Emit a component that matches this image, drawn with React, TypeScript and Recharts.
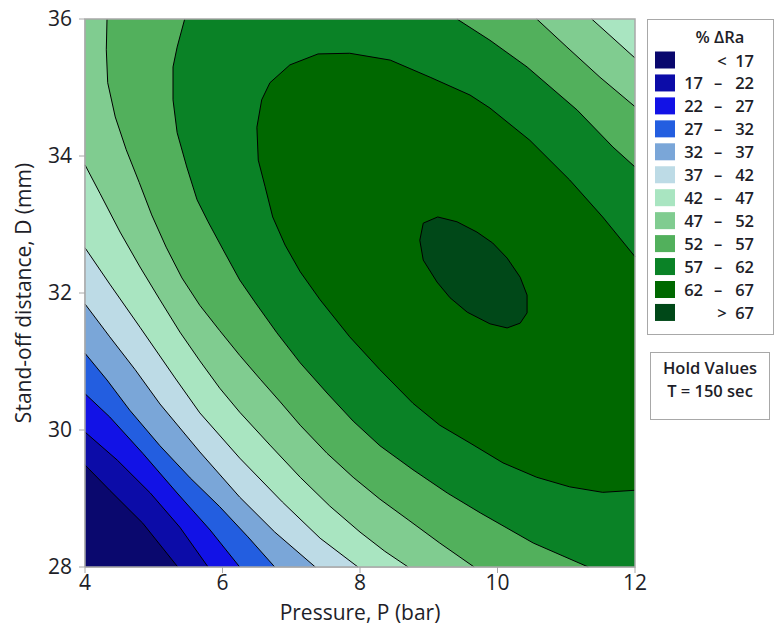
import React from "react";
import { ScatterChart, Scatter, XAxis, YAxis } from "recharts";

// contour lines, as [P (bar), D (mm)]
const c17 = [[4, 29.49], [4.36, 29.12], [4.84, 28.64], [5.35, 28]];
const c22 = [[4, 29.97], [4.47, 29.56], [4.95, 29.08], [5.38, 28.58], [5.79, 28]];
const c27 = [[4, 30.53], [4.36, 30.19], [4.84, 29.66], [5.34, 29.08], [5.82, 28.54], [6.25, 28]];
const c32 = [[4, 31.12], [4.32, 30.73], [4.65, 30.29], [5.09, 29.77], [5.53, 29.3], [5.96, 28.88], [6.37, 28.44], [6.76, 28]];
const c37 = [[4, 31.84], [4.36, 31.36], [4.73, 30.88], [5.09, 30.38], [5.67, 29.68], [6.25, 29.02], [6.76, 28.51], [7.35, 28]];
const c42 = [[4, 32.66], [4.36, 32.13], [4.8, 31.5], [5.31, 30.76], [5.67, 30.25], [6.25, 29.59], [6.87, 28.95], [7.42, 28.42], [7.97, 28]];
const c47 = [
  [4, 33.87], [4.22, 33.45], [4.51, 32.89], [4.8, 32.38], [5.09, 31.9], [5.38, 31.43], [5.67, 31.01], [5.96, 30.61],
  [6.25, 30.26], [6.69, 29.78], [7.13, 29.31], [7.56, 28.89], [8.0, 28.51], [8.36, 28.23], [8.7, 28],
];
const c47Top = [[11.37, 36], [11.68, 35.72], [12, 35.43]];
const c52 = [
  [4.32, 36], [4.31, 35.55], [4.33, 35.07], [4.44, 34.57], [4.6, 34.09], [4.79, 33.61], [4.97, 33.14], [5.18, 32.67],
  [5.41, 32.22], [5.67, 31.82], [5.96, 31.45], [6.25, 31.09], [6.55, 30.74], [6.84, 30.41], [7.13, 30.07], [7.52, 29.66],
  [7.9, 29.31], [8.29, 28.99], [8.7, 28.69], [9.16, 28.35], [9.66, 28],
];
const c52Top = [[10.57, 36], [11.01, 35.59], [11.49, 35.15], [12, 34.72]];
const c57 = [
  [5.45, 36], [5.34, 35.59], [5.28, 35.3], [5.28, 34.82], [5.34, 34.34], [5.48, 33.84], [5.63, 33.36], [5.79, 33.04],
  [6.01, 32.63], [6.25, 32.19], [6.47, 31.87], [6.79, 31.42], [7.13, 30.98], [7.52, 30.54], [7.9, 30.13], [8.29, 29.77],
  [8.77, 29.42], [9.27, 29.08], [9.75, 28.79], [10.52, 28.35], [11.32, 28],
];
const c57Top = [[9.41, 36], [9.89, 35.69], [10.43, 35.3], [11.16, 34.67], [11.68, 34.13], [12, 33.84]];
const c62 = [
  [12, 32.53], [11.53, 33.11], [11.05, 33.65], [10.47, 34.23], [9.89, 34.7], [9.6, 34.89], [9.02, 35.15], [8.44, 35.4],
  [7.85, 35.5], [7.39, 35.49], [6.98, 35.33], [6.69, 35.07], [6.57, 34.82], [6.5, 34.42], [6.52, 33.94], [6.62, 33.55],
  [6.73, 33.11], [6.91, 32.7], [7.13, 32.31], [7.42, 31.9], [7.85, 31.36], [8.29, 30.88], [8.77, 30.39], [9.16, 30.07],
  [9.6, 29.81], [10.08, 29.52], [10.57, 29.31], [11.05, 29.17], [11.53, 29.09], [12, 29.12],
];
const c67 = [
  [8.87, 32.77], [8.92, 33.02], [9.13, 33.11], [9.41, 33.04], [9.7, 32.89], [9.93, 32.73], [10.14, 32.51], [10.33, 32.23],
  [10.43, 31.97], [10.43, 31.71], [10.33, 31.56], [10.14, 31.49], [9.89, 31.55], [9.56, 31.72], [9.31, 31.93], [9.12, 32.16],
  [8.92, 32.48], [8.87, 32.77],
];

const xTicks = [4, 6, 8, 10, 12];
const yTicks = [28, 30, 32, 34, 36];

const legendRows = [
  ["<", "", "17"], ["17", "–", "22"], ["22", "–", "27"], ["27", "–", "32"], ["32", "–", "37"], ["37", "–", "42"],
  ["42", "–", "47"], ["47", "–", "52"], ["52", "–", "57"], ["57", "–", "62"], ["62", "–", "67"], [">", "", "67"],
];
const bandColors = [
  "#0a086e", "#0c0ca8", "#1212e6", "#235ee0", "#7aa6d8", "#bddbe6",
  "#a9e5c1", "#80cc90", "#52b05c", "#0a8226", "#006800", "#004818",
];

const font = "'Open Sans', 'Noto Sans', sans-serif";
const frameGrey = "#a8a8a8";
const ink = "#1e1e28";

const toPts = (a: number[][]) => a.map(([x, y]) => ({ x, y }));
const rev = (a: number[][]) => [...a].reverse();
const box = [[4, 28], [12, 28], [12, 36], [4, 36]];

// each region is "value above the level", painted from low to high
const regions = [
  box,
  [...c17, [12, 28], [12, 36], [4, 36]],
  [...c22, [12, 28], [12, 36], [4, 36]],
  [...c27, [12, 28], [12, 36], [4, 36]],
  [...c32, [12, 28], [12, 36], [4, 36]],
  [...c37, [12, 28], [12, 36], [4, 36]],
  [...c42, [12, 28], [12, 36], [4, 36]],
  [...c47, [12, 28], ...rev(c47Top), [4, 36]],
  [...c52, [12, 28], ...rev(c52Top)],
  [...c57, [12, 28], ...rev(c57Top)],
  c62,
  c67,
];
const contours = [c17, c22, c27, c32, c37, c42, c47, c47Top, c52, c52Top, c57, c57Top, c62, c67];

const noDot = () => <g />;

export default function App() {
  return (
    <div style={{ position: "absolute", left: 0, top: 0, width: 782, height: 632, background: "#fff" }}>
      <ScatterChart width={782} height={632} margin={{ top: 19, right: 147, bottom: 0, left: 0 }}>
        <XAxis
          type="number"
          dataKey="x"
          domain={[4, 12]}
          ticks={xTicks}
          height={65}
          tickSize={6}
          tickMargin={2}
          axisLine={{ stroke: frameGrey }}
          tickLine={{ stroke: frameGrey }}
          tick={{ fontSize: 21, fill: ink, fontFamily: font }}
          label={() => (
            <text x={360} y={612} textAnchor="middle" dominantBaseline="central" fontSize={21} fill={ink} fontFamily={font}>
              Pressure, P (bar)
            </text>
          )}
        />
        <YAxis
          type="number"
          dataKey="y"
          domain={[28, 36]}
          ticks={yTicks}
          width={85}
          tickSize={6}
          tickMargin={7}
          axisLine={{ stroke: frameGrey }}
          tickLine={{ stroke: frameGrey }}
          tick={{ fontSize: 21, fill: ink, fontFamily: font }}
          label={() => (
            <text
              x={23}
              y={293}
              transform="rotate(-90 23 293)"
              textAnchor="middle"
              dominantBaseline="central"
              fontSize={21}
              fill={ink}
              fontFamily={font}
            >
              Stand-off distance, D (mm)
            </text>
          )}
        />
        {regions.map((r, i) => (
          <Scatter
            key={"band" + i}
            data={toPts(r)}
            line={{ fill: bandColors[i], stroke: "none" }}
            shape={noDot}
            isAnimationActive={false}
          />
        ))}
        {contours.map((c, i) => (
          <Scatter
            key={"line" + i}
            data={toPts(c)}
            line={{ fill: "none", stroke: "#000", strokeWidth: 1 }}
            shape={noDot}
            isAnimationActive={false}
          />
        ))}
        <Scatter
          data={toPts([...box, box[0]])}
          line={{ fill: "none", stroke: frameGrey, strokeWidth: 1.5 }}
          shape={noDot}
          isAnimationActive={false}
        />
      </ScatterChart>
      <svg width={782} height={632} style={{ position: "absolute", left: 0, top: 0, pointerEvents: "none" }}>
        <g fontFamily={font} fontSize={16.5} fontWeight={600} fill={ink}>
          <rect x={647.5} y={19.5} width={126} height={315} fill="#fff" stroke={frameGrey} />
          <text x={720} y={36} textAnchor="middle" dominantBaseline="central">% ΔRa</text>
          {legendRows.map((row, i) => {
            const cy = 60 + i * 22.95;
            return (
              <g key={i}>
                <rect x={655} y={cy - 8.5} width={20} height={17} fill={bandColors[i]} />
                {row[1] ? (
                  <>
                    <text x={703} y={cy} textAnchor="end" dominantBaseline="central">{row[0]}</text>
                    <text x={718} y={cy} textAnchor="middle" dominantBaseline="central">{row[1]}</text>
                  </>
                ) : (
                  <text x={722} y={cy} textAnchor="middle" dominantBaseline="central">{row[0]}</text>
                )}
                <text x={754} y={cy} textAnchor="end" dominantBaseline="central">{row[2]}</text>
              </g>
            );
          })}
          <rect x={650.5} y={352.5} width={119} height={67} fill="#fff" stroke={frameGrey} />
          <text x={710} y={367} textAnchor="middle" dominantBaseline="central">Hold Values</text>
          <text x={710} y={390} textAnchor="middle" dominantBaseline="central">T = 150 sec</text>
        </g>
      </svg>
    </div>
  );
}
